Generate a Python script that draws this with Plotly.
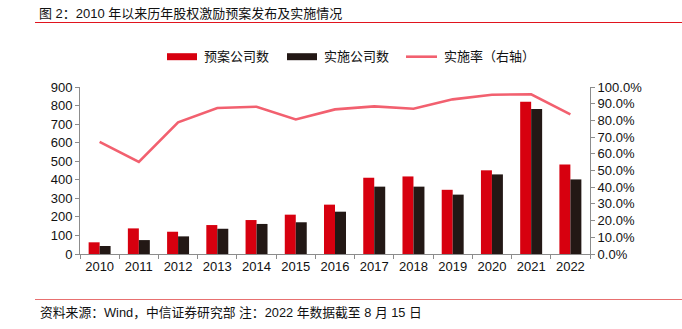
import plotly.graph_objects as go

years = ["2010", "2011", "2012", "2013", "2014", "2015", "2016", "2017", "2018", "2019", "2020", "2021", "2022"]
plan_counts = [63, 138, 120, 156, 183, 212, 266, 411, 418, 346, 451, 820, 483]
impl_counts = [43, 75, 95, 136, 162, 171, 228, 363, 363, 320, 429, 781, 402]
impl_rate = [0.671, 0.551, 0.788, 0.874, 0.882, 0.806, 0.866, 0.884, 0.870, 0.926, 0.954, 0.956, 0.836]

RED = "#D7000F"
BLACK = "#231815"
PINK = "#F2606F"
FONT = "Liberation Sans, Arial, Noto Sans CJK SC, sans-serif"

W, H = 682, 329
L, R, T, B = 80, 590, 87, 254


def px(x):
    return (x - L) / (R - L)


def py(y):
    return (B - y) / (B - T)


fig = go.Figure()
fig.add_trace(go.Bar(x=years, y=plan_counts, name="预案公司数", marker=dict(color=RED, line=dict(width=0)), yaxis="y"))
fig.add_trace(go.Bar(x=years, y=impl_counts, name="实施公司数", marker=dict(color=BLACK, line=dict(width=0)), yaxis="y"))
fig.add_trace(go.Scatter(x=years, y=impl_rate, name="实施率（右轴）", mode="lines", line=dict(color=PINK, width=2.6), yaxis="y2"))

axis_line = "#8c8c8c"
fig.update_layout(
    width=W, height=H,
    margin=dict(l=L, r=W - R, t=T, b=H - B, pad=0),
    paper_bgcolor="white", plot_bgcolor="white",
    showlegend=False,
    barmode="group", bargap=0.44, bargroupgap=0,
    font=dict(family=FONT, size=13, color="#111111"),
    xaxis=dict(type="category", showgrid=False, showline=True, linecolor=axis_line, linewidth=1,
               ticks="outside", tickson="boundaries", ticklen=4, tickcolor=axis_line,
               tickfont=dict(size=13), zeroline=False),
    yaxis=dict(range=[0, 900], dtick=100, showgrid=False, showline=True, linecolor=axis_line, linewidth=1,
               ticks="outside", ticklen=4, tickcolor=axis_line, zeroline=False, tickfont=dict(size=13)),
    yaxis2=dict(range=[0, 1], dtick=0.1, tickformat=".1%", overlaying="y", side="right",
                showgrid=False, showline=True, linecolor=axis_line, linewidth=1,
                ticks="outside", ticklen=4, tickcolor=axis_line, zeroline=False, tickfont=dict(size=13)),
)

shapes = []
annotations = []

# title and rule
annotations.append(dict(text="图 2：2010 年以来历年股权激励预案发布及实施情况", xref="paper", yref="paper",
                        x=px(37), y=py(13), xanchor="left", yanchor="middle", showarrow=False,
                        font=dict(size=13, family=FONT, color="#111111")))
shapes.append(dict(type="line", xref="paper", yref="paper", x0=px(35), x1=px(682), y0=py(22.5), y1=py(22.5),
                   line=dict(color="#E0141E", width=1.2)))

# footer and rule
shapes.append(dict(type="line", xref="paper", yref="paper", x0=px(35), x1=px(682), y0=py(299.5), y1=py(299.5),
                   line=dict(color="#E87070", width=1.2)))
annotations.append(dict(text="资料来源：Wind，中信证券研究部 注：2022 年数据截至 8 月 15 日", xref="paper", yref="paper",
                        x=px(38), y=py(312.5), xanchor="left", yanchor="middle", showarrow=False,
                        font=dict(size=12.8, family=FONT, color="#111111")))

# legend
ly = 56.7
shapes.append(dict(type="rect", xref="paper", yref="paper", x0=px(167), x1=px(197), y0=py(ly - 3.5), y1=py(ly + 3.5),
                   fillcolor=RED, line=dict(width=0)))
annotations.append(dict(text="预案公司数", xref="paper", yref="paper", x=px(201.5), y=py(ly),
                        xanchor="left", yanchor="middle", showarrow=False, font=dict(size=13, family=FONT)))
shapes.append(dict(type="rect", xref="paper", yref="paper", x0=px(287), x1=px(317), y0=py(ly - 3.5), y1=py(ly + 3.5),
                   fillcolor=BLACK, line=dict(width=0)))
annotations.append(dict(text="实施公司数", xref="paper", yref="paper", x=px(321.5), y=py(ly),
                        xanchor="left", yanchor="middle", showarrow=False, font=dict(size=13, family=FONT)))
shapes.append(dict(type="line", xref="paper", yref="paper", x0=px(406), x1=px(437), y0=py(ly), y1=py(ly),
                   line=dict(color=PINK, width=2.6)))
annotations.append(dict(text="实施率（右轴）", xref="paper", yref="paper", x=px(441.5), y=py(ly),
                        xanchor="left", yanchor="middle", showarrow=False, font=dict(size=13, family=FONT)))

fig.update_layout(shapes=shapes, annotations=annotations)
fig.write_html("out.html")
